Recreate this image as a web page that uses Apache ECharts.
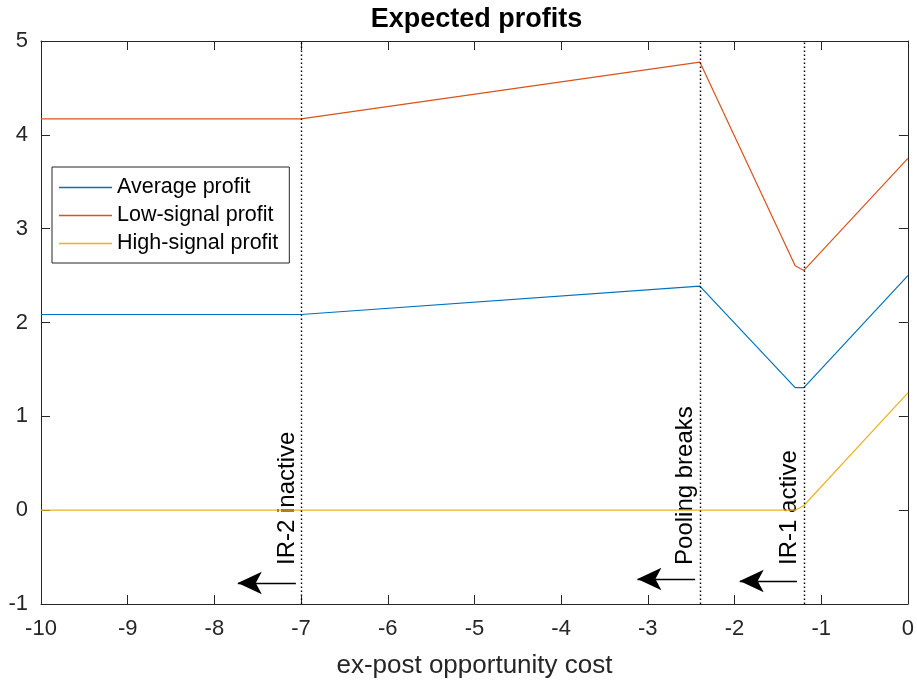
<!DOCTYPE html>
<html><head><meta charset="utf-8">
<script src="https://cdn.jsdelivr.net/npm/echarts@6/dist/echarts.min.js"></script>
<style>html,body{margin:0;padding:0;background:#fff}#c{width:917px;height:684px}</style>
</head><body><div id="c"></div>
<script>
// ---- data ----
const xPoints = [-10, -7, -2.4, -1.3, -1.2, 0];
const averageProfit = [2.085, 2.085, 2.388, 1.305, 1.305, 2.5];
const lowSignalProfit = [4.17, 4.17, 4.775, 2.605, 2.555, 3.75];
const highSignalProfit = [0, 0, 0, 0, 0.05, 1.25];
const seriesNames = ['Average profit', 'Low-signal profit', 'High-signal profit'];
const xTicks = [-10, 0, 1];   // min, max, interval
const yTicks = [-1, 5, 1];
const breakX = [-7, -2.4, -1.2];
const breakLabels = ['IR-2 inactive', 'Pooling breaks', 'IR-1 active'];
const labelX = [-7.02, -2.43, -1.23];
const labelY = [-0.584, -0.584, -0.584];
const arrowFrom = [[-7.06, -0.776], [-2.454, -0.734], [-1.28, -0.755]];
const arrowTo = [[-7.73, -0.776], [-3.12, -0.734], [-1.94, -0.755]];

const FONT = '"Liberation Sans", Arial, Helvetica, sans-serif';
const AX = '#262626';
const colors = ['#0072BD', '#D95319', '#EDB120'];
const pair = (xs, ys) => xs.map((x, i) => [x, ys[i]]);
const values = [averageProfit, lowSignalProfit, highSignalProfit];

const chart = echarts.init(document.getElementById('c'));
const axisCommon = {
  type: 'value',
  axisLine: { onZero: false, lineStyle: { color: AX, width: 1 } },
  axisTick: { inside: true, length: 9, lineStyle: { color: AX, width: 1 } },
  splitLine: { show: false }
};
const option = {
  animation: false,
  backgroundColor: '#fff',
  grid: { left: 41, right: 8, top: 41, bottom: 80 },
  legend: {
    data: seriesNames,
    orient: 'vertical', left: 52, top: 167,
    icon: 'rect',
    itemWidth: 53, itemHeight: 1.5, itemGap: 6,
    padding: [9.5, 11, 8.5, 7],
    borderColor: AX, borderWidth: 1, backgroundColor: '#fff',
    textStyle: { fontFamily: FONT, fontSize: 21.5, color: '#000', lineHeight: 21 }
  },
  xAxis: [
    Object.assign({}, axisCommon, {
      min: xTicks[0], max: xTicks[1], interval: xTicks[2], position: 'bottom',
      axisLabel: { fontFamily: FONT, fontSize: 22, color: AX, margin: 14 },
      name: 'ex-post opportunity cost', nameLocation: 'middle', nameGap: 49,
      nameTextStyle: { fontFamily: FONT, fontSize: 26, color: AX }
    }),
    Object.assign({}, axisCommon, {
      min: xTicks[0], max: xTicks[1], interval: xTicks[2], position: 'top',
      axisLabel: { show: false }
    })
  ],
  yAxis: [
    Object.assign({}, axisCommon, {
      min: yTicks[0], max: yTicks[1], interval: yTicks[2], position: 'left',
      axisLabel: { fontFamily: FONT, fontSize: 22, color: AX, margin: 13 }
    }),
    Object.assign({}, axisCommon, {
      min: yTicks[0], max: yTicks[1], interval: yTicks[2], position: 'right',
      axisLabel: { show: false }
    })
  ],
  series: seriesNames.map((n, i) => ({
    name: n, type: 'line', data: pair(xPoints, values[i]),
    symbol: 'none', color: colors[i],
    lineStyle: { color: colors[i], width: 1.2 }, z: 3
  })).concat([
    {
      name: 'breaks', type: 'line', data: [], silent: true,
      markLine: {
        silent: true, symbol: 'none', animation: false,
        label: { show: false },
        lineStyle: { color: '#000', type: [1.4, 2.6], width: 1.4 },
        data: breakX.map(x => [{ coord: [x, yTicks[0]] }, { coord: [x, yTicks[1]] }])
      }
    },
    {
      name: 'arrows', type: 'line', data: [], silent: true,
      markLine: {
        silent: true, symbol: ['none', 'arrow'], symbolSize: [17, 24], animation: false,
        label: { show: false },
        lineStyle: { color: '#000', type: 'solid', width: 1.3 },
        itemStyle: { color: '#000' },
        data: arrowFrom.map((s, i) => [{ coord: s }, { coord: arrowTo[i] }])
      }
    }
  ])
};
chart.setOption(option);

const titleX = chart.convertToPixel({ xAxisIndex: 0, yAxisIndex: 0 }, [(xTicks[0] + xTicks[1]) / 2, 0])[0];
const graphics = [{
  type: 'text', x: titleX + 2, y: 20,
  style: { text: 'Expected profits', fontFamily: FONT, fontSize: 27, fontWeight: 'bold', fill: '#000', align: 'center', verticalAlign: 'middle' }
}].concat(breakLabels.map((t, i) => {
  const p = chart.convertToPixel({ xAxisIndex: 0, yAxisIndex: 0 }, [labelX[i], labelY[i]]);
  return {
    type: 'text', x: p[0], y: p[1], rotation: Math.PI / 2,
    style: { text: t, fontFamily: FONT, fontSize: 24, fill: '#000', align: 'left', verticalAlign: 'bottom' }
  };
}));
chart.setOption({ graphic: graphics });
</script></body></html>
